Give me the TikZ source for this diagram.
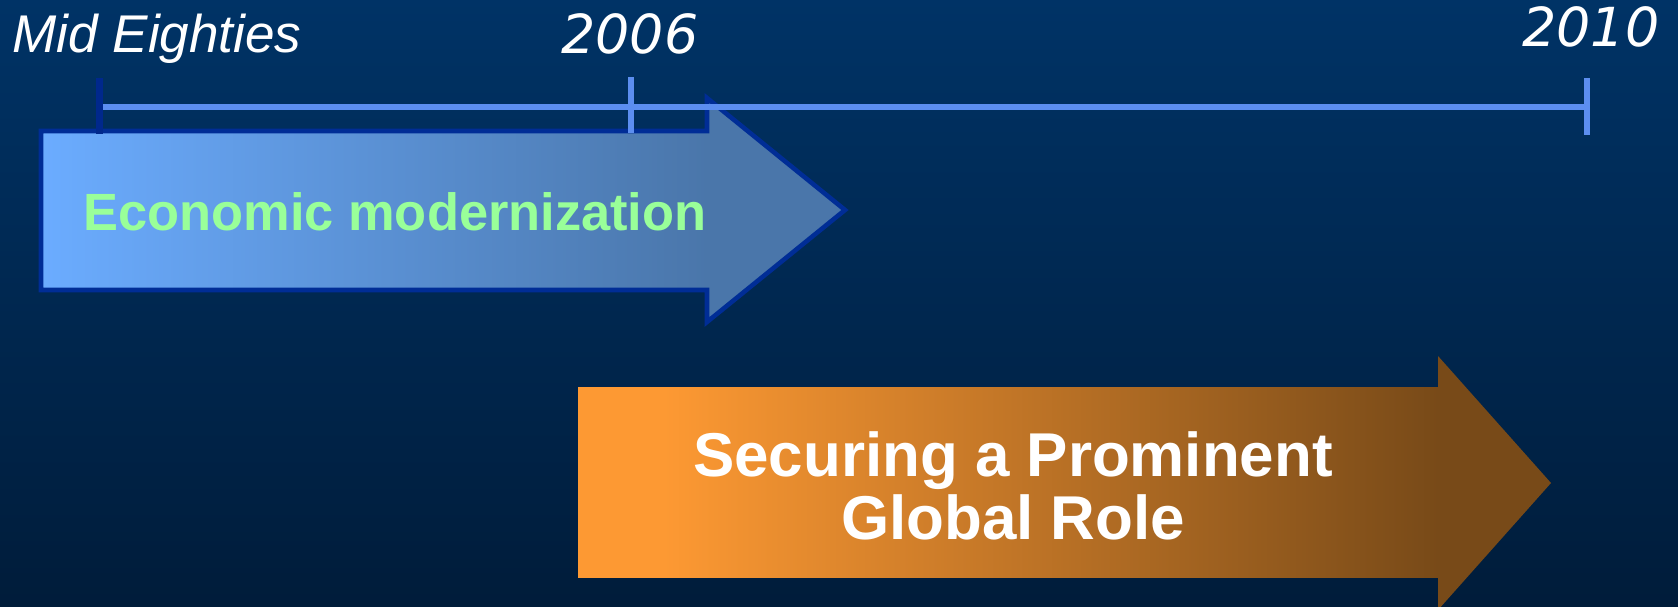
\documentclass[tikz,border=0pt]{standalone}
\usepackage{fontspec}
\setmainfont{Liberation Sans}
\newfontfamily\yearfont{DejaVu Sans}
\usepackage{tikz}
\definecolor{bgtop}{RGB}{0,51,102}
\definecolor{bgbot}{RGB}{0,28,58}
\definecolor{lineblue}{RGB}{92,142,240}
\definecolor{tickdark}{RGB}{0,40,140}
\definecolor{ecoborder}{RGB}{0,45,150}
\definecolor{ecoleft}{RGB}{107,172,255}
\definecolor{ecoright}{RGB}{74,118,170}
\definecolor{ecotext}{RGB}{153,255,153}
\definecolor{roleleft}{RGB}{253,153,51}
\definecolor{roleright}{RGB}{120,74,24}
\pgfdeclarehorizontalshading{roleshade}{100bp}{color(0bp)=(roleleft); color(25bp)=(roleleft); color(30bp)=(roleleft); color(75bp)=(roleright); color(100bp)=(roleright)}

\begin{document}
\begin{tikzpicture}[x=0.01cm,y=-0.01cm,
    year/.style={text=white,inner sep=0pt,anchor=base,font=\yearfont\itshape\fontsize{15.3}{18}\selectfont},
    timeline/.style={lineblue,line width=1.7pt},
    tick/.style={line width=1.8pt}]
  \useasboundingbox (0,0) rectangle (1678,607);
  \clip (0,0) rectangle (1678,607);
  \shade[top color=bgtop,bottom color=bgbot] (0,0) rectangle (1678,607);
  % economic modernization arrow
  \fill[ecoright] (41,131) -- (707,131) -- (707,98) -- (845,210) -- (707,322) -- (707,290) -- (41,290) -- cycle;
  \shade[left color=ecoleft,right color=ecoright] (41,131) rectangle (707,290);
  \draw[ecoborder,line width=1.3pt] (41,131) -- (707,131) -- (707,98) -- (845,210) -- (707,322) -- (707,290) -- (41,290) -- cycle;
  \node[text=ecotext,inner sep=0pt,anchor=base,font=\bfseries\fontsize{14.9}{18}\selectfont] (eco) at (395,231) {Economic modernization};
  % global role arrow
  \fill[roleright] (578,388) -- (1438,388) -- (1438,356) -- (1551,483) -- (1438,610) -- (1438,578) -- (578,578) -- cycle;
  \shade[shading=roleshade] (578,388) rectangle (1438,578);
  \node[text=white,inner sep=0pt,align=center,font=\bfseries\fontsize{17.6}{17.8}\selectfont] (role) at (1013,486) {Securing a Prominent\\Global Role};
  % time line
  \coordinate (t0) at (99.5,107);
  \coordinate (t1) at (631,107);
  \coordinate (t2) at (1587,107);
  \draw[timeline] (t0) -- (t2);
  \draw[tick,tickdark] (t0) ++(0,-29) -- ++(0,56);
  \draw[tick,lineblue] (t1) ++(0,-30) -- ++(0,56);
  \draw[tick,lineblue] (t2) ++(0,-29) -- ++(0,57);
  \node[text=white,inner sep=0pt,anchor=base,font=\itshape\fontsize{15.1}{18}\selectfont] (mid) at (157,53) {Mid Eighties};
  \node[year] (y2006) at (630,54) {2006};
  \node[year] (y2010) at (1591,47) {2010};
\end{tikzpicture}
\end{document}
